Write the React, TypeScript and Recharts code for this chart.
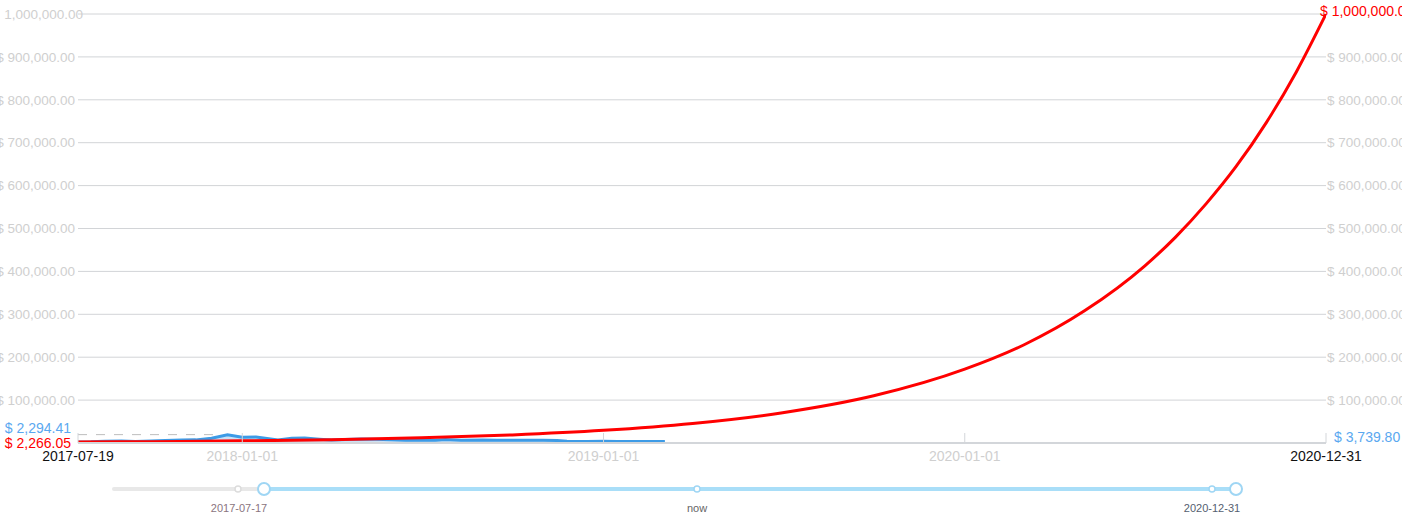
import React from 'react';
import { ComposedChart, Area, Line, XAxis, YAxis, CartesianGrid, ReferenceLine } from 'recharts';

// ---- data ----
const blueDates = [
  '2017-07-19', '2017-08-01', '2017-08-15', '2017-09-01', '2017-09-15', '2017-10-01', '2017-10-15',
  '2017-11-01', '2017-11-15', '2017-12-01', '2017-12-17', '2018-01-01', '2018-01-15', '2018-02-06',
  '2018-02-20', '2018-03-05', '2018-03-20', '2018-04-01', '2018-04-15', '2018-05-01', '2018-05-15',
  '2018-06-01', '2018-06-15', '2018-07-01', '2018-07-15', '2018-07-25', '2018-08-10', '2018-09-01',
  '2018-09-15', '2018-10-01', '2018-10-15', '2018-11-01', '2018-11-15', '2018-11-25', '2018-12-15',
  '2019-01-01', '2019-01-15', '2019-02-01', '2019-02-15', '2019-03-04',
];
const blueValues = [
  2294.41, 2720, 4180, 4890, 3700, 4400, 5700,
  6750, 7300, 10900, 19300, 13400, 13800, 7000,
  11200, 11500, 8900, 6800, 8000, 9100, 8500,
  7500, 6500, 6350, 6300, 8200, 6300, 7100,
  6500, 6600, 6500, 6350, 5600, 3900, 3250,
  3850, 3550, 3450, 3600, 3739.8,
];

const redDates = [
  '2017-07-19', '2017-10-01', '2018-01-01', '2018-04-01', '2018-07-01', '2018-10-01', '2019-01-01',
  '2019-04-01', '2019-07-01', '2019-10-01', '2020-01-01', '2020-03-01', '2020-05-01', '2020-07-01',
  '2020-08-01', '2020-09-01', '2020-10-01', '2020-11-01', '2020-12-01', '2020-12-31',
];
const redValues = [
  2266.05, 3200, 5000, 7800, 12100, 18900, 29500,
  45500, 70500, 110000, 172000, 229000, 308000, 413000,
  480000, 558000, 644000, 748000, 865000, 1000000,
];

const xTickLabels = ['2017-07-19', '2018-01-01', '2019-01-01', '2020-01-01', '2020-12-31'];
const yTickValues = [0, 100000, 200000, 300000, 400000, 500000, 600000, 700000, 800000, 900000, 1000000];
const athValue = 19500;
const athEnd = '2017-12-07';

const startLabelBlue = '$ 2,294.41';
const startLabelRed = '$ 2,266.05';
const endLabelBlue = '$ 3,739.80';
const endLabelRed = '$ 1,000,000.00';

const sliderLabels = ['2017-07-17', 'now', '2020-12-31'];

// ---- helpers ----
const toTs = (s: string) => {
  const [y, m, d] = s.split('-').map(Number);
  return Date.UTC(y, m - 1, d);
};
const blueData = blueDates.map((d, i) => ({ t: toTs(d), v: blueValues[i] }));
const redData = redDates.map((d, i) => ({ t: toTs(d), v: redValues[i] }));
const xTicks = xTickLabels.map(toTs);
const fmtDate = (ts: number) => new Date(ts).toISOString().slice(0, 10);
const fmtMoney = (v: number) =>
  '$ ' + v.toLocaleString('en-US', { minimumFractionDigits: 2, maximumFractionDigits: 2 });

const FONT = 'Arial, "Liberation Sans", sans-serif';
const GRAY = '#cfcfcf';
const TICK_FS = 13.5;

const XTick = (props: any) => {
  const { x, y, payload, index } = props;
  const edge = index === 0 || index === xTicks.length - 1;
  return (
    <g>
      <line x1={x} x2={x} y1={y - 10} y2={y} stroke="#d3d6da" strokeWidth={1} />
      <text x={x} y={y + 18} textAnchor="middle" fontSize={14} fontFamily={FONT} fill={edge ? '#111' : GRAY}>
        {fmtDate(payload.value)}
      </text>
    </g>
  );
};

const LeftTick = (props: any) => {
  const { x, y, payload } = props;
  const v = payload.value;
  if (v === 0) return null;
  if (v === 1000000) {
    return (
      <text x={x + 5} y={y} dy="0.35em" textAnchor="end" fontSize={TICK_FS} fontFamily={FONT} fill={GRAY}>
        1,000,000.00
      </text>
    );
  }
  return (
    <text x={x - 3} y={y} dy="0.35em" textAnchor="end" fontSize={TICK_FS} fontFamily={FONT} fill={GRAY}>
      {fmtMoney(v)}
    </text>
  );
};

const RightTick = (props: any) => {
  const { x, y, payload } = props;
  const v = payload.value;
  if (v === 0 || v === 1000000) return null;
  return (
    <text x={x + 1} y={y} dy="0.35em" textAnchor="start" fontSize={TICK_FS} fontFamily={FONT} fill={GRAY}>
      {fmtMoney(v)}
    </text>
  );
};

export default function App() {
  return (
    <div style={{ position: 'absolute', left: 0, top: 0, width: 1402, height: 520, background: '#fff', overflow: 'hidden' }}>
      <ComposedChart width={1402} height={470} margin={{ top: 14, right: 0, bottom: 0, left: 0 }}>
        <CartesianGrid horizontal vertical={false} stroke="#d2d4d7" yAxisId="left" />
        <XAxis
          type="number"
          dataKey="t"
          domain={[xTicks[0], xTicks[xTicks.length - 1]]}
          ticks={xTicks}
          height={27}
          tickSize={0}
          tickMargin={0}
          tickLine={false}
          axisLine={{ stroke: '#d3d6da', strokeWidth: 2 }}
          tick={<XTick />}
          allowDataOverflow
        />
        <YAxis
          yAxisId="left"
          orientation="left"
          width={78}
          domain={[0, 1000000]}
          ticks={yTickValues}
          tickSize={0}
          tickMargin={0}
          axisLine={false}
          tickLine={false}
          tick={<LeftTick />}
          allowDataOverflow
        />
        <YAxis
          yAxisId="right"
          orientation="right"
          width={76}
          domain={[0, 1000000]}
          ticks={yTickValues}
          tickSize={0}
          tickMargin={0}
          axisLine={false}
          tickLine={false}
          tick={<RightTick />}
          allowDataOverflow
        />
        <ReferenceLine
          yAxisId="left"
          segment={[
            { x: xTicks[0], y: athValue },
            { x: toTs(athEnd), y: athValue },
          ]}
          stroke="#bdbdbd"
          strokeDasharray="9 9"
          strokeWidth={1}
        />
        <Area
          yAxisId="left"
          data={blueData}
          dataKey="v"
          type="linear"
          stroke="#3d9be6"
          strokeWidth={3}
          fill="#a6cff2"
          fillOpacity={0.6}
          dot={false}
          isAnimationActive={false}
        />
        <Line
          yAxisId="left"
          data={redData}
          dataKey="v"
          type="monotone"
          stroke="#ff0000"
          strokeWidth={3}
          dot={false}
          isAnimationActive={false}
        />
      </ComposedChart>
      <svg
        width={1402}
        height={470}
        style={{ position: 'absolute', left: 0, top: 0, pointerEvents: 'none', overflow: 'visible' }}
      >
        <text x={71} y={433} textAnchor="end" fontSize={14} fontFamily={FONT} fill="#5aa8f0">{startLabelBlue}</text>
        <text x={71} y={448} textAnchor="end" fontSize={14} fontFamily={FONT} fill="#ff0000">{startLabelRed}</text>
        <text x={1334} y={442} textAnchor="start" fontSize={14} fontFamily={FONT} fill="#5aa8f0">{endLabelBlue}</text>
        <text x={1320} y={16} textAnchor="start" fontSize={14} fontFamily={FONT} fill="#ff0000">{endLabelRed}</text>
      </svg>
      <svg width={1402} height={50} style={{ position: 'absolute', left: 0, top: 470 }}>
        <line x1={114} x2={238} y1={19} y2={19} stroke="#e8e8e8" strokeWidth={4} strokeLinecap="round" />
        <line x1={238} x2={264} y1={19} y2={19} stroke="#e8e8e8" strokeWidth={4} />
        <line x1={264} x2={1236} y1={19} y2={19} stroke="#a9def8" strokeWidth={4} />
        <circle cx={238} cy={19} r={3} fill="#fff" stroke="#dcdcdc" strokeWidth={1.5} />
        <circle cx={697} cy={19} r={3} fill="#fff" stroke="#9fd6f4" strokeWidth={1.5} />
        <circle cx={1212} cy={19} r={3} fill="#fff" stroke="#9fd6f4" strokeWidth={1.5} />
        <circle cx={264} cy={19} r={6} fill="#fff" stroke="#9fd6f4" strokeWidth={2} />
        <circle cx={1236} cy={19} r={6} fill="#fff" stroke="#9fd6f4" strokeWidth={2} />
        <text x={239} y={42} textAnchor="middle" fontSize={11} fontFamily={FONT} fill="#8a7480">{sliderLabels[0]}</text>
        <text x={697} y={42} textAnchor="middle" fontSize={11} fontFamily={FONT} fill="#666">{sliderLabels[1]}</text>
        <text x={1212} y={42} textAnchor="middle" fontSize={11} fontFamily={FONT} fill="#556070">{sliderLabels[2]}</text>
      </svg>
    </div>
  );
}
